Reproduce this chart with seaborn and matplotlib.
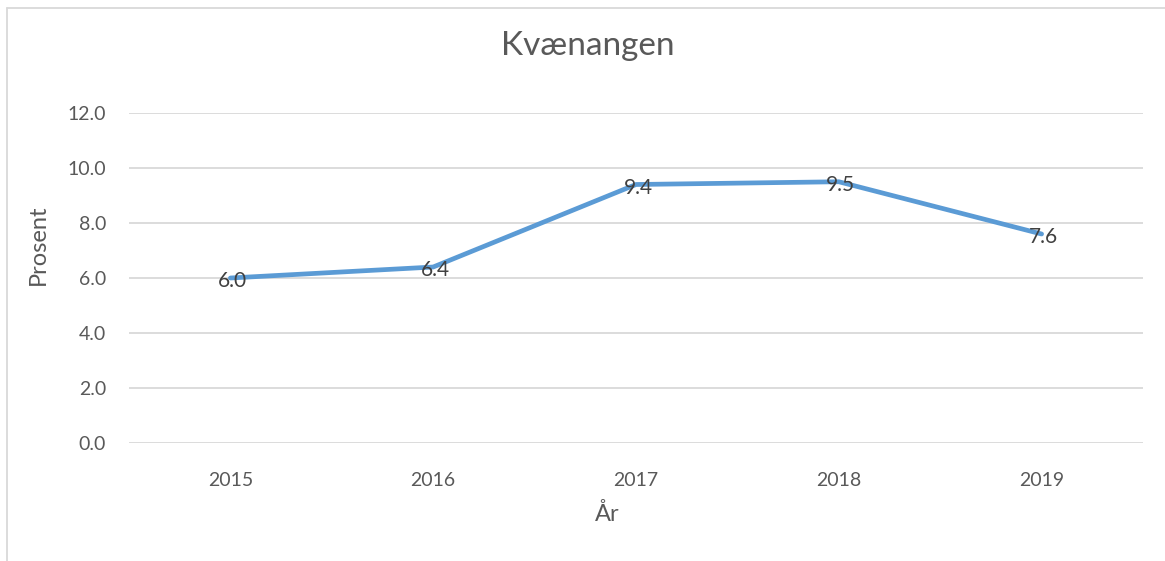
import matplotlib
matplotlib.use("Agg")
import matplotlib.pyplot as plt
import pandas as pd
import seaborn as sns

years = ["2015", "2016", "2017", "2018", "2019"]
values = [6.0, 6.4, 9.4, 9.5, 7.6]
yticks = [0, 2, 4, 6, 8, 10, 12]

df = pd.DataFrame({"year": years, "prosent": values})

sns.set_theme(style="white")
plt.rcParams["font.family"] = ["Lato", "DejaVu Sans"]
text_col = "#595959"
W, H = 1165, 561

fig = plt.figure(figsize=(W / 100, H / 100), dpi=100)
ax = fig.add_axes([129 / W, 1 - 443 / H, 1014 / W, 330 / H])

sns.lineplot(data=df, x="year", y="prosent", ax=ax, color="#5B9BD5",
             linewidth=3.4, sort=False, solid_capstyle="round")

# data labels sit on the points, nudged a little down/right
for i, v in enumerate(values):
    ax.annotate(f"{v:.1f}", (i, v), xytext=(1.5, -2.5), textcoords="offset points",
                ha="center", va="center", fontsize=15, color="#404040")

ax.set_xlim(-0.5, len(years) - 0.5)
ax.set_ylim(0, 12)
ax.set_yticks(yticks)
ax.set_yticklabels([f"{t:.1f}" for t in yticks])
ax.yaxis.grid(True, color="#D9D9D9", linewidth=1.3)
ax.set_axisbelow(True)
for s in ax.spines.values():
    s.set_visible(False)
ax.tick_params(axis="both", length=0, labelsize=14, labelcolor=text_col)
ax.tick_params(axis="x", pad=21)
ax.tick_params(axis="y", pad=16.5)
ax.set_xlabel("")
ax.set_ylabel("")

fig.text(607 / W, 1 - 514 / H, "År", fontsize=17, color=text_col,
         ha="center", va="center")
fig.text(38 / W, 1 - 245 / H, "Prosent", fontsize=17, color=text_col,
         ha="center", va="center", rotation=90)
fig.text(588 / W, 1 - 46 / H, "Kvænangen", fontsize=24, color=text_col,
         ha="center", va="center")

# chart frame like the source
fig.add_artist(plt.Line2D([7 / W, 7 / W], [0, 1 - 8 / H],
                          color="#D9D9D9", linewidth=1.3))
fig.add_artist(plt.Line2D([7 / W, 1], [1 - 8 / H, 1 - 8 / H],
                          color="#D9D9D9", linewidth=1.3))

fig.savefig("out.png", dpi=100)
